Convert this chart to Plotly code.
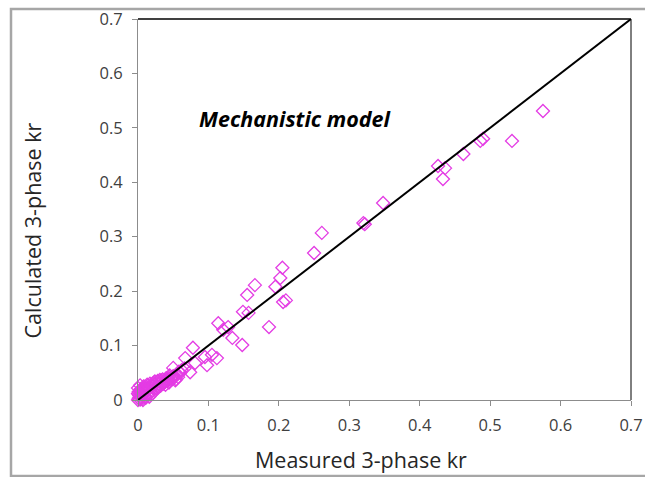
import plotly.graph_objects as go

# Measured vs calculated three-phase relative permeability
measured = [
    0.575, 0.531, 0.486, 0.490, 0.462, 0.426, 0.436, 0.433, 0.348, 0.320, 0.322,
    0.261, 0.250, 0.205, 0.202, 0.195, 0.166, 0.155, 0.206, 0.210, 0.149, 0.157,
    0.186, 0.114, 0.128, 0.121, 0.134, 0.148, 0.078, 0.105, 0.112, 0.095, 0.067,
    0.081, 0.098, 0.074, 0.050, 0.057, 0.043, 0.031, 0.060,
    0.000, 0.001, 0.002, 0.001, 0.000, 0.003, 0.004, 0.005, 0.006, 0.008, 0.008,
    0.010, 0.012, 0.013, 0.015, 0.017, 0.018, 0.020, 0.022, 0.024, 0.026, 0.028,
    0.030, 0.032, 0.035, 0.037, 0.040, 0.042, 0.045, 0.048, 0.052, 0.055, 0.003,
    0.006, 0.010, 0.015, 0.020, 0.025, 0.002, 0.007, 0.011, 0.016, 0.034, 0.038,
    0.001, 0.004, 0.009, 0.014, 0.019, 0.023, 0.027, 0.031, 0.036, 0.041, 0.046,
    0.050, 0.054, 0.058, 0.062, 0.066, 0.002, 0.005, 0.012, 0.018, 0.024, 0.029,
    0.033, 0.039, 0.044, 0.049, 0.053, 0.000, 0.003, 0.007,
]
calculated = [
    0.531, 0.476, 0.476, 0.480, 0.452, 0.430, 0.426, 0.406, 0.362, 0.325, 0.323,
    0.307, 0.270, 0.243, 0.224, 0.208, 0.211, 0.193, 0.180, 0.183, 0.162, 0.160,
    0.134, 0.141, 0.134, 0.129, 0.114, 0.101, 0.096, 0.083, 0.077, 0.079, 0.077,
    0.068, 0.064, 0.051, 0.059, 0.042, 0.040, 0.037, 0.050,
    0.000, 0.003, 0.008, 0.015, 0.022, 0.027, 0.005, 0.012, 0.018, 0.010, 0.025,
    0.020, 0.015, 0.028, 0.022, 0.030, 0.018, 0.025, 0.032, 0.028, 0.022, 0.035,
    0.030, 0.026, 0.038, 0.032, 0.040, 0.035, 0.045, 0.038, 0.042, 0.047, 0.001,
    0.002, 0.006, 0.010, 0.012, 0.018, -0.004, 0.000, 0.004, 0.006, 0.030, 0.033,
    0.010, 0.020, 0.024, 0.020, 0.027, 0.030, 0.026, 0.034, 0.030, 0.036, 0.040,
    0.044, 0.038, 0.052, 0.055, 0.058, -0.008, 0.010, 0.024, 0.014, 0.034, 0.024,
    0.036, 0.028, 0.032, 0.042, 0.036, 0.012, 0.017, 0.021,
]
unity_line = [0.0, 0.7]

tick_vals = [0, 0.1, 0.2, 0.3, 0.4, 0.5, 0.6, 0.7]
tick_text = ["0", "0.1", "0.2", "0.3", "0.4", "0.5", "0.6", "0.7"]

fig = go.Figure()

fig.add_trace(go.Scatter(
    x=measured, y=calculated, mode="markers",
    marker=dict(symbol="diamond-open", size=10, color="rgb(228,60,228)",
                line=dict(width=1.3, color="rgb(228,60,228)")),
    cliponaxis=False, showlegend=False,
))

fig.add_trace(go.Scatter(
    x=unity_line, y=unity_line, mode="lines",
    line=dict(color="black", width=2), showlegend=False, cliponaxis=False,
))

fig.add_annotation(
    x=0.223, y=0.517, text="<b><i>Mechanistic model</i></b>", showarrow=False,
    font=dict(family="Open Sans", size=21.5, color="black"),
)

# axis titles
fig.add_annotation(
    xref="paper", yref="paper", x=0.452, y=-0.155, yanchor="middle",
    text="Measured 3-phase kr", showarrow=False,
    font=dict(family="Open Sans", size=21.5, color="#262626"),
)
fig.add_annotation(
    xref="paper", yref="paper", x=-0.215, y=0.445, xanchor="center",
    text="Calculated 3-phase kr", textangle=-90, showarrow=False,
    font=dict(family="Open Sans", size=21.5, color="#262626"),
)

axis_common = dict(
    range=[0, 0.7], tickvals=tick_vals, ticktext=tick_text,
    showgrid=False, zeroline=False, showline=True, linecolor="#8c8c8c",
    linewidth=1, ticks="outside", ticklen=5, tickcolor="#8c8c8c",
    tickfont=dict(family="Open Sans", size=16.5, color="#404040"),
    automargin=False,
)

fig.update_xaxes(**axis_common, ticklabelstandoff=5)
fig.update_yaxes(**axis_common, ticklabelstandoff=6)

shapes = [
    # plot area top and right edges
    dict(type="line", xref="paper", yref="paper", x0=0, x1=1, y0=1, y1=1,
         line=dict(color="black", width=1.5)),
    dict(type="line", xref="paper", yref="paper", x0=1, x1=1, y0=0, y1=1,
         line=dict(color="black", width=1)),
    # chart frame
    dict(type="rect", xref="paper", yref="paper", x0=-0.2576, x1=1.06,
         y0=-0.1995, y1=1.0262, line=dict(color="#a6a6a6", width=2.5)),
]

fig.update_layout(
    width=645, height=477,
    margin=dict(l=138, r=14, t=19, b=77, autoexpand=False),
    paper_bgcolor="white", plot_bgcolor="white",
    shapes=shapes,
)

fig.write_html("out.html")
